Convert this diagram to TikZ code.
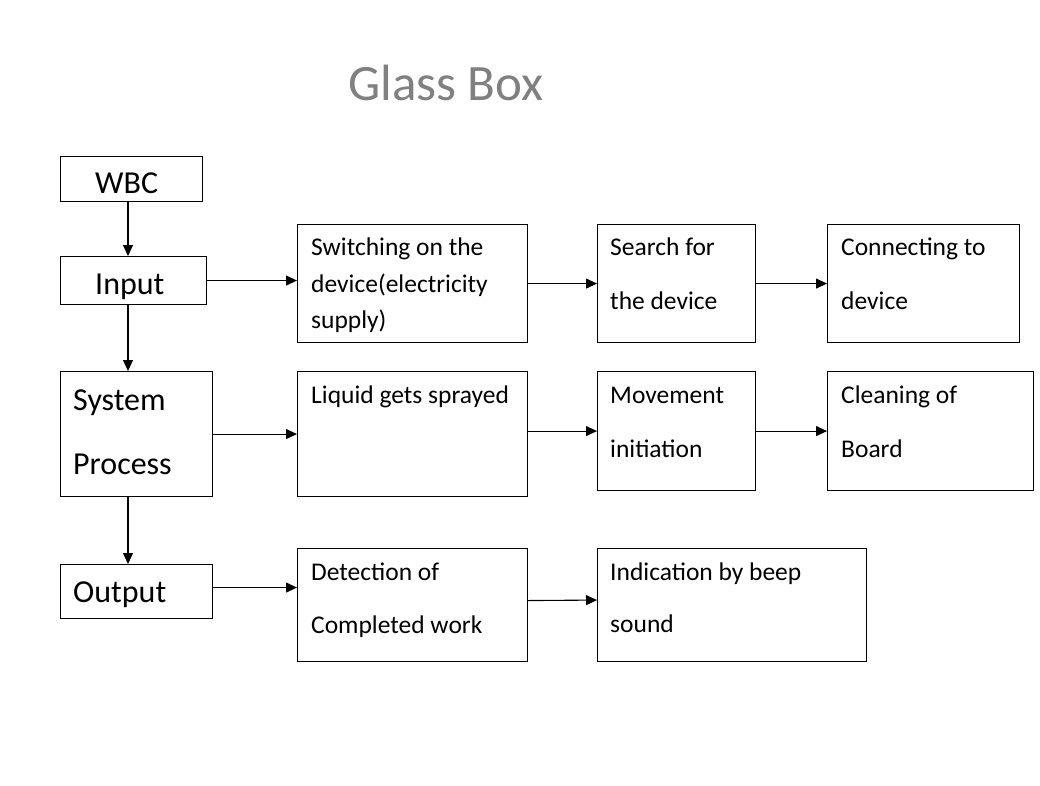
\documentclass[tikz,border=0pt]{standalone}
\usepackage{fontspec}
\setmainfont{Carlito}
\usepackage{tikz}
\usepackage{xcolor}
\usetikzlibrary{arrows.meta,positioning,calc}
\definecolor{titlegray}{RGB}{128,128,128}

\begin{document}
\begin{tikzpicture}[x=1pt,y=-1pt,
    box/.style={draw,line width=1.1pt,rectangle,inner sep=0pt,anchor=north west},
    big/.style={inner sep=0pt,anchor=base west,font=\fontsize{32}{38}\selectfont},
    small/.style={inner sep=0pt,anchor=base west,font=\fontsize{25.5}{30}\selectfont},
    arr/.style={line width=1.1pt,-{Triangle[length=11pt,width=10pt]}}]
    \useasboundingbox (0,0) rectangle (1040,785);

    % Title
    \node[inner sep=0pt,anchor=base west,text=titlegray,font=\fontsize{51}{60}\selectfont] (title) at (348,100) {Glass Box};

    % Left column
    \node[box,minimum width=142pt,minimum height=45pt] (wbc) at (60,156) {};
    \node[big] (wbct) at (95,193) {WBC};
    \node[box,minimum width=146pt,minimum height=48pt] (in) at (60,256) {};
    \node[big] (int) at (95,294) {Input};
    \node[box,minimum width=152pt,minimum height=125pt] (sys) at (60,371) {};
    \node[big] (syst1) at (73,410) {System};
    \node[big] (syst2) at (73,474) {Process};
    \node[box,minimum width=152pt,minimum height=54pt] (out) at (60,564) {};
    \node[big] (outt) at (73,602) {Output};

    % Row 1: Input
    \node[box,minimum width=230pt,minimum height=118pt] (sw) at (297,224) {};
    \node[small] (swt1) at (311,255) {Switching on the};
    \node[small] (swt2) at (311,292) {device(electricity};
    \node[small] (swt3) at (311,328) {supply)};
    \node[box,minimum width=158pt,minimum height=118pt] (se) at (597,224) {};
    \node[small] (set1) at (610,255) {Search for};
    \node[small] (set2) at (610,309) {the device};
    \node[box,minimum width=192pt,minimum height=118pt] (co) at (827,224) {};
    \node[small] (cot1) at (841,255) {Connecting to};
    \node[small] (cot2) at (841,309) {device};

    % Row 2: System Process
    \node[box,minimum width=230pt,minimum height=125pt] (lq) at (297,371) {};
    \node[small] (lqt) at (311,403) {Liquid gets sprayed};
    \node[box,minimum width=158pt,minimum height=119pt] (mv) at (597,371) {};
    \node[small] (mvt1) at (610,403) {Movement};
    \node[small] (mvt2) at (610,457) {initiation};
    \node[box,minimum width=206pt,minimum height=119pt] (cl) at (827,371) {};
    \node[small] (clt1) at (841,403) {Cleaning of};
    \node[small] (clt2) at (841,457) {Board};

    % Row 3: Output
    \node[box,minimum width=230pt,minimum height=113pt] (det) at (297,548) {};
    \node[small] (dett1) at (311,580) {Detection of};
    \node[small] (dett2) at (311,633) {Completed work};
    \node[box,minimum width=269pt,minimum height=113pt] (ind) at (597,548) {};
    \node[small] (indt1) at (610,580) {Indication by beep};
    \node[small] (indt2) at (610,632) {sound};

    % Arrows
    \coordinate (ax) at (128,0);
    \draw[arr] (wbc.south -| ax) -- (in.north -| ax);
    \draw[arr] (in.south -| ax) -- (sys.north -| ax);
    \draw[arr] (sys.south -| ax) -- (out.north -| ax);

    \draw[arr] (in.east) -- (in.east -| sw.west);
    \draw[arr] (sw.east) -- (se.west);
    \draw[arr] (se.east) -- (co.west);

    \draw[arr] (sys.east) -- (sys.east -| lq.west);
    \draw[arr] (lq.east |- mv.west) -- (mv.west);
    \draw[arr] (mv.east) -- (cl.west);

    \draw[arr] ([yshift=4pt]out.east) -- ([yshift=4pt]out.east -| det.west);
    \draw[arr] ([yshift=4.5pt]det.east) -- ([yshift=5pt]ind.west);

\end{tikzpicture}
\end{document}
